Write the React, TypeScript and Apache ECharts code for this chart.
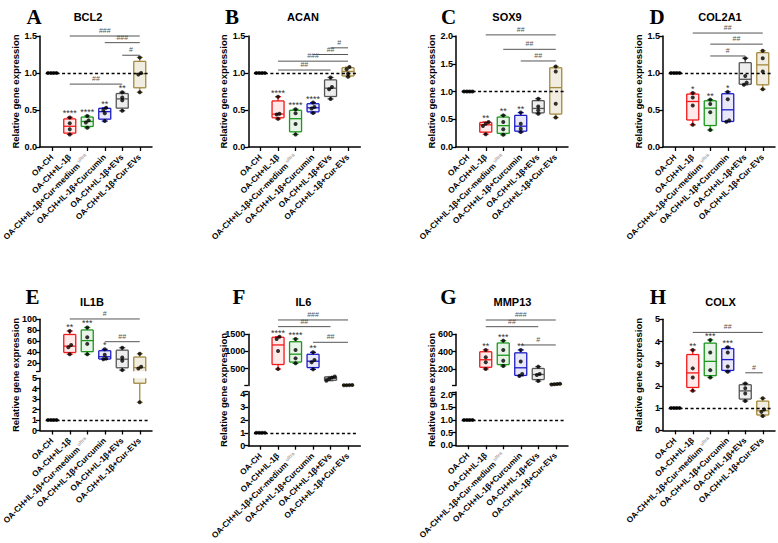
import React, { useEffect, useRef } from "react";
import * as echarts from "echarts";

// ---------------- data ----------------
const CATEGORIES = [
  "OA-CH",
  "OA-CH+IL-1β",
  "OA-CH+IL-1β+Cur-medium",
  "OA-CH+IL-1β+Curcumin",
  "OA-CH+IL-1β+EVs",
  "OA-CH+IL-1β+Cur-EVs",
];
const SUPERSCRIPT_CATEGORY = 2;
const SUPERSCRIPT_TEXT = "ultra";
const GENES = ["BCL2", "ACAN", "SOX9", "COL2A1", "IL1B", "IL6", "MMP13", "COLX"];
const LETTERS = ["A", "B", "C", "D", "E", "F", "G", "H"];
const REF_VALUE = 1;
const Y_NAME = "Relative gene expression";

const BCL2_VALUES = [
  [1, 1, 1, 1],
  [0.17, 0.24, 0.32, 0.4],
  [0.26, 0.33, 0.36, 0.42],
  [0.35, 0.455, 0.5, 0.53],
  [0.49, 0.63, 0.67, 0.74],
  [0.74, 0.98, 1.0, 1.21],
];
const BCL2_STARS = ["", "****", "****", "**", "**", ""];
const BCL2_SIG: [number, number, number, string][] = [
  [1, 5, 1.5, "###"],
  [3, 5, 1.41, "###"],
  [4, 5, 1.24, "#"],
  [1, 4, 0.85, "##"],
];
const BCL2_AXIS = [{ min: 0, max: 1.5, labels: [0, 0.5, 1, 1.5] }];

const ACAN_VALUES = [
  [1, 1, 1, 1],
  [0.38, 0.44, 0.45, 0.68],
  [0.17, 0.31, 0.455, 0.51],
  [0.46, 0.52, 0.54, 0.6],
  [0.65, 0.78, 0.81, 0.94],
  [0.95, 0.99, 1.05, 1.08],
];
const ACAN_STARS = ["", "****", "****", "****", "", ""];
const ACAN_SIG: [number, number, number, string][] = [
  [4, 5, 1.34, "#"],
  [3, 5, 1.25, "##"],
  [1, 5, 1.16, "###"],
  [1, 4, 1.04, "##"],
];
const ACAN_AXIS = [{ min: 0, max: 1.5, labels: [0, 0.5, 1, 1.5] }];

const SOX9_VALUES = [
  [1, 1, 1, 1],
  [0.23, 0.38, 0.42, 0.45],
  [0.22, 0.32, 0.45, 0.57],
  [0.27, 0.33, 0.42, 0.62],
  [0.6, 0.66, 0.73, 0.87],
  [0.53, 0.78, 1.36, 1.45],
];
const SOX9_STARS = ["", "**", "**", "**", "", ""];
const SOX9_SIG: [number, number, number, string][] = [
  [1, 5, 2.02, "##"],
  [2, 5, 1.76, "##"],
  [3, 5, 1.55, "##"],
];
const SOX9_AXIS = [{ min: 0, max: 2, labels: [0, 0.5, 1, 1.5, 2] }];

const COL2A1_VALUES = [
  [1, 1, 1, 1],
  [0.3, 0.56, 0.67, 0.73],
  [0.23, 0.47, 0.58, 0.64],
  [0.34, 0.36, 0.645, 0.745],
  [0.84, 0.87, 0.96, 1.2],
  [0.78, 1.02, 1.2, 1.3],
];
const COL2A1_STARS = ["", "*", "**", "*", "", ""];
const COL2A1_SIG: [number, number, number, string][] = [
  [1, 5, 1.54, "##"],
  [2, 5, 1.39, "##"],
  [2, 4, 1.23, "#"],
];
const COL2A1_AXIS = [{ min: 0, max: 1.5, labels: [0, 0.5, 1, 1.5] }];

const IL1B_VALUES = [
  [1, 1, 1, 1],
  [36, 48.7, 53, 78.6],
  [36, 55, 67, 85],
  [27, 28, 35, 45],
  [7, 24, 30, 48],
  [2.7, 10, 13, 37],
];
const IL1B_STARS = ["", "**", "***", "*", "", ""];
const IL1B_SIG: [number, number, number, string][] = [
  [1, 5, 100.6, "#"],
  [3, 5, 59, "##"],
];
const IL1B_AXIS = [
  { min: 5, max: 100, labels: [20, 40, 60, 80, 100] },
  { min: 0, max: 5, labels: [0, 1, 2, 3, 4, 5] },
];

const IL6_VALUES = [
  [1, 1, 1, 1],
  [490, 1015, 1365, 1430],
  [656, 800, 1044, 1365],
  [480, 685, 750, 975],
  [150, 200, 240, 270],
  [18, 20, 22, 24],
];
const IL6_STARS = ["", "****", "****", "**", "", ""];
const IL6_SIG: [number, number, number, string][] = [
  [1, 5, 1917, "###"],
  [1, 4, 1723, "##"],
  [3, 5, 1267, "##"],
];
const IL6_AXIS = [
  { min: 8, max: 1500, labels: [500, 1000, 1500] },
  { min: 0, max: 4.2, labels: [0, 1, 2, 3, 4] },
];

const MMP13_VALUES = [
  [1, 1, 1, 1],
  [200, 277, 335, 420],
  [235, 296, 420, 527],
  [120, 142, 285, 420],
  [60, 130, 142, 227],
  [20, 24, 26, 30],
];
const MMP13_STARS = ["", "**", "***", "**", "", ""];
const MMP13_SIG: [number, number, number, string][] = [
  [1, 5, 765, "###"],
  [1, 4, 688, "##"],
  [3, 5, 477, "#"],
];
const MMP13_AXIS = [
  { min: 8, max: 600, labels: [200, 400, 600] },
  { min: 0, max: 2.1, labels: [0, 0.5, 1, 1.5, 2] },
];

const COLX_VALUES = [
  [1, 1, 1, 1],
  [1.78, 2.38, 2.79, 3.62],
  [2.38, 2.71, 3.5, 4.07],
  [2.64, 2.87, 3.5, 3.74],
  [1.32, 1.66, 1.89, 2.11],
  [0.64, 0.83, 0.94, 1.44],
];
const COLX_STARS = ["", "**", "***", "***", "", ""];
const COLX_SIG: [number, number, number, string][] = [
  [1, 5, 4.41, "##"],
  [4, 5, 2.59, "#"],
];
const COLX_AXIS = [{ min: 0, max: 5, labels: [0, 1, 2, 3, 4, 5] }];

// ---------------- styling / layout ----------------
const FONT = '"Liberation Sans", Arial, Helvetica, sans-serif';
const SERIF = '"Liberation Serif", "Times New Roman", serif';
const BOX_COLORS = ["#000000", "#f01818", "#1e961e", "#1c1cc4", "#555555", "#a3893f"];
const BOX_FILLS = [
  "rgba(0,0,0,0)",
  "rgba(255,40,40,0.10)",
  "rgba(30,150,30,0.10)",
  "rgba(30,30,200,0.10)",
  "rgba(90,90,90,0.10)",
  "rgba(170,140,60,0.16)",
];
const PLOT_W = 112;
const X_MIN = -0.7;
const X_MAX = 5.7;
const BOX_W = 12;
const CAP_W = 6;
const X_LABEL_SIZE = 8.2;
const COL_X = [40, 248.3, 456, 663];
const SEG_RECTS: [number, number][][] = [
  [[36, 147]],
  [[36, 147]],
  [[36, 147]],
  [[36, 147]],
  [[319.3, 371.2], [378.3, 430.5]],
  [[334.3, 385.6], [391.7, 445.7]],
  [[334.3, 385.6], [392, 445.3]],
  [[319.3, 430.3]],
];
const LETTER_POS = [
  [34, 17], [232, 17], [448.5, 17], [657, 17],
  [32.5, 297], [239, 297], [448.5, 297], [658, 297],
];
const TITLE_POS = [
  [88, 17], [303, 17], [507, 17], [720, 17],
  [92, 302], [303.5, 302], [512.5, 302], [720.5, 302],
];
const YNAME_Y = [91.5, 91.5, 91.5, 91.5, 375, 390, 390, 375];

const PANELS = [
  { values: BCL2_VALUES, stars: BCL2_STARS, sig: BCL2_SIG, axis: BCL2_AXIS },
  { values: ACAN_VALUES, stars: ACAN_STARS, sig: ACAN_SIG, axis: ACAN_AXIS },
  { values: SOX9_VALUES, stars: SOX9_STARS, sig: SOX9_SIG, axis: SOX9_AXIS },
  { values: COL2A1_VALUES, stars: COL2A1_STARS, sig: COL2A1_SIG, axis: COL2A1_AXIS },
  { values: IL1B_VALUES, stars: IL1B_STARS, sig: IL1B_SIG, axis: IL1B_AXIS },
  { values: IL6_VALUES, stars: IL6_STARS, sig: IL6_SIG, axis: IL6_AXIS },
  { values: MMP13_VALUES, stars: MMP13_STARS, sig: MMP13_SIG, axis: MMP13_AXIS },
  { values: COLX_VALUES, stars: COLX_STARS, sig: COLX_SIG, axis: COLX_AXIS },
];

// GraphPad-style quartiles ((n+1)p positions)
function quantile(sorted: number[], p: number) {
  const n = sorted.length;
  const pos = (n + 1) * p;
  if (pos <= 1) return sorted[0];
  if (pos >= n) return sorted[n - 1];
  const lo = Math.floor(pos);
  const f = pos - lo;
  return sorted[lo - 1] + f * (sorted[lo] - sorted[lo - 1]);
}
function boxStats(vals: number[]) {
  const s = [...vals].sort((a, b) => a - b);
  return [s[0], quantile(s, 0.25), quantile(s, 0.5), quantile(s, 0.75), s[s.length - 1]];
}
function pointOffsets(vals: number[], pxPerUnit: number) {
  const idx = vals.map((_, k) => k).sort((a, b) => vals[a] - vals[b]);
  const offs = new Array(vals.length).fill(0);
  let cluster = [idx[0]];
  const flush = () => {
    const n = cluster.length;
    cluster.forEach((k, j) => {
      offs[k] = n > 1 ? (j - (n - 1) / 2) * 2.8 : 0;
    });
  };
  for (let j = 1; j < idx.length; j++) {
    if ((vals[idx[j]] - vals[idx[j - 1]]) * pxPerUnit < 2.5) cluster.push(idx[j]);
    else {
      flush();
      cluster = [idx[j]];
    }
  }
  flush();
  return offs;
}

function textStyle(text: string, size: number, weight: string, family: string, fill: string, align: string, valign: string) {
  return {
    text,
    fill,
    fontSize: size,
    fontWeight: weight,
    fontFamily: family,
    textAlign: align,
    textVerticalAlign: valign,
    align,
    verticalAlign: valign,
  };
}

function buildOption() {
  const grid: any[] = [];
  const xAxis: any[] = [];
  const yAxis: any[] = [];
  const series: any[] = [];
  const graphic: any[] = [];
  const catIdx = CATEGORIES.map((_, i) => i);

  PANELS.forEach((p, pi) => {
    const left = COL_X[pi % 4];
    const rects = SEG_RECTS[pi];
    const stats = p.values.map(boxStats);

    p.axis.forEach((seg, si) => {
      const g = grid.length;
      const [top, bottom] = rects[si];
      const isBottom = si === p.axis.length - 1;
      const isTop = si === 0;
      grid.push({ left, top, width: PLOT_W, height: bottom - top, containLabel: false, outerBoundsMode: "none" });

      xAxis.push({
        gridIndex: g,
        type: "value",
        min: X_MIN,
        max: X_MAX,
        show: isBottom,
        axisLine: { show: true, onZero: false, lineStyle: { color: "#000", width: 1.5 } },
        axisTick: { show: true, customValues: catIdx, length: 4, lineStyle: { color: "#000", width: 1.3 } },
        splitLine: { show: false },
        axisLabel: {
          customValues: catIdx,
          rotate: 45,
          margin: 9,
          color: "#000",
          fontSize: X_LABEL_SIZE,
          fontWeight: "bold",
          fontFamily: FONT,
          formatter: (v: number) => {
            const i = Math.round(v);
            const name = CATEGORIES[i] ?? "";
            return i === SUPERSCRIPT_CATEGORY ? `{a|${name}}{u|${SUPERSCRIPT_TEXT}}` : `{a|${name}}`;
          },
          rich: {
            a: { fontSize: X_LABEL_SIZE, fontWeight: "bold", color: "#000", fontFamily: FONT },
            u: { fontSize: 5, color: "#aaa", fontFamily: FONT, padding: [0, 0, 6, 1.5] },
          },
        },
      });

      const dec = seg.labels.some((v) => !Number.isInteger(v)) ? 1 : 0;
      const tickVals = [...seg.labels];
      if (!tickVals.includes(seg.min)) tickVals.unshift(seg.min);
      if (!tickVals.includes(seg.max)) tickVals.push(seg.max);
      yAxis.push({
        gridIndex: g,
        type: "value",
        min: seg.min,
        max: seg.max,
        axisLine: { show: true, onZero: false, lineStyle: { color: "#000", width: 1.5 } },
        axisTick: { show: true, customValues: tickVals, length: 4, lineStyle: { color: "#000", width: 1.3 } },
        splitLine: { show: false },
        axisLabel: {
          customValues: seg.labels,
          margin: 3,
          color: "#000",
          fontSize: 9,
          fontWeight: "bold",
          fontFamily: FONT,
          formatter: (v: number) => v.toFixed(dec),
        },
      });

      // boxes
      const boxIdx = catIdx.filter((i) => stats[i][4] >= seg.min && stats[i][0] <= seg.max);
      series.push({
        type: "custom",
        xAxisIndex: g,
        yAxisIndex: g,
        z: 2,
        silent: true,
        data: boxIdx.map((i) => [i, stats[i][2]]),
        renderItem: (params: any, api: any) => {
          const i = boxIdx[params.dataIndex];
          const [mn, q1, md, q3, mx] = stats[i];
          const cs = params.coordSys;
          const T = cs.y;
          const B = cs.y + cs.height;
          const Y = (v: number) => api.coord([i, v])[1];
          const cx = api.coord([i, md])[0];
          const cl = (y: number) => Math.max(T, Math.min(B, y));
          const inR = (y: number) => y >= T - 0.01 && y <= B + 0.01;
          const st = { stroke: BOX_COLORS[i], lineWidth: 1.3 };
          const ch: any[] = [];
          const line = (x1: number, y1: number, x2: number, y2: number) =>
            ch.push({ type: "line", shape: { x1, y1, x2, y2 }, style: st });
          const hw = BOX_W / 2;
          const cw = CAP_W / 2;
          const yq1 = Y(q1), yq3 = Y(q3), ymd = Y(md), ymn = Y(mn), ymx = Y(mx);
          const bt = cl(yq3), bb = cl(yq1);
          if (bb - bt > 0) {
            ch.push({ type: "rect", shape: { x: cx - hw, y: bt, width: BOX_W, height: bb - bt }, style: { fill: BOX_FILLS[i], stroke: "none" } });
            line(cx - hw, bt, cx - hw, bb);
            line(cx + hw, bt, cx + hw, bb);
          }
          if (inR(yq3)) line(cx - hw, yq3, cx + hw, yq3);
          if (inR(yq1)) line(cx - hw, yq1, cx + hw, yq1);
          if (inR(ymd)) line(cx - hw, ymd, cx + hw, ymd);
          const wt = cl(ymx), wb = cl(yq3);
          if (wb - wt > 0) line(cx, wt, cx, wb);
          const lt = cl(yq1), lb = cl(ymn);
          if (lb - lt > 0) line(cx, lt, cx, lb);
          if (inR(ymx)) line(cx - cw, ymx, cx + cw, ymx);
          if (inR(ymn)) line(cx - cw, ymn, cx + cw, ymn);
          return { type: "group", children: ch };
        },
      });

      // points
      const pxPerUnit = (bottom - top) / (seg.max - seg.min);
      const pts: any[] = [];
      p.values.forEach((vals, i) => {
        const offs = pointOffsets(vals, pxPerUnit);
        vals.forEach((v, k) => {
          if (v >= seg.min && v <= seg.max) pts.push({ value: [i, v], symbolOffset: [offs[k], 0] });
        });
      });
      const hasRef = REF_VALUE >= seg.min && REF_VALUE <= seg.max;
      series.push({
        type: "scatter",
        xAxisIndex: g,
        yAxisIndex: g,
        z: 4,
        silent: true,
        clip: false,
        symbol: "circle",
        symbolSize: 4,
        itemStyle: { color: "#000" },
        data: pts,
        markLine: hasRef
          ? {
              silent: true,
              symbol: ["none", "none"],
              label: { show: false },
              lineStyle: { color: "#000", type: [3, 2.5], width: 1.3 },
              data: [[{ coord: [-0.38, REF_VALUE] }, { coord: [5.5, REF_VALUE] }]],
            }
          : undefined,
      });

      // stars
      const starIdx = catIdx.filter((i) => p.stars[i] && stats[i][4] >= seg.min && stats[i][4] <= seg.max);
      if (starIdx.length) {
        series.push({
          type: "custom",
          xAxisIndex: g,
          yAxisIndex: g,
          z: 5,
          silent: true,
          data: starIdx.map((i) => [i, stats[i][4]]),
          renderItem: (params: any, api: any) => {
            const i = starIdx[params.dataIndex];
            const c = api.coord([i, stats[i][4]]);
            return {
              type: "text",
              x: c[0],
              y: c[1] + 0.5,
              style: textStyle(p.stars[i], 9, "normal", FONT, "#333", "center", "bottom"),
            };
          },
        });
      }

      // significance brackets
      if (isTop) {
        series.push({
          type: "custom",
          xAxisIndex: g,
          yAxisIndex: g,
          z: 5,
          silent: true,
          data: p.sig.map((s) => [s[0], s[2]]),
          renderItem: (params: any, api: any) => {
            const s = p.sig[params.dataIndex];
            const a = api.coord([s[0], s[2]]);
            const b = api.coord([s[1], s[2]]);
            return {
              type: "group",
              children: [
                { type: "line", shape: { x1: a[0], y1: a[1], x2: b[0], y2: b[1] }, style: { stroke: "#555", lineWidth: 1 } },
                {
                  type: "text",
                  x: (a[0] + b[0]) / 2,
                  y: a[1] - 2,
                  style: textStyle(s[3], 7, "normal", FONT, "#555", "center", "bottom"),
                },
              ],
            };
          },
        });
      }
    });

    graphic.push({
      type: "text",
      x: LETTER_POS[pi][0],
      y: LETTER_POS[pi][1],
      silent: true,
      style: textStyle(LETTERS[pi], 21, "bold", SERIF, "#000", "center", "middle"),
    });
    graphic.push({
      type: "text",
      x: TITLE_POS[pi][0],
      y: TITLE_POS[pi][1],
      silent: true,
      style: textStyle(GENES[pi], 11, "bold", FONT, "#000", "center", "middle"),
    });
    graphic.push({
      type: "text",
      x: left - 24.5,
      y: YNAME_Y[pi],
      rotation: Math.PI / 2,
      silent: true,
      style: textStyle(Y_NAME, 9.5, "bold", FONT, "#000", "center", "middle"),
    });
  });

  return {
    animation: false,
    backgroundColor: "#fff",
    grid,
    xAxis,
    yAxis,
    series,
    graphic,
  };
}

export default function App() {
  const ref = useRef<HTMLDivElement>(null);
  useEffect(() => {
    document.body.style.margin = "0";
    const chart = echarts.init(ref.current as HTMLDivElement, null, { renderer: "svg" });
    chart.setOption(buildOption() as any);
    return () => chart.dispose();
  }, []);
  return <div ref={ref} style={{ width: 778, height: 543, background: "#fff" }} />;
}
